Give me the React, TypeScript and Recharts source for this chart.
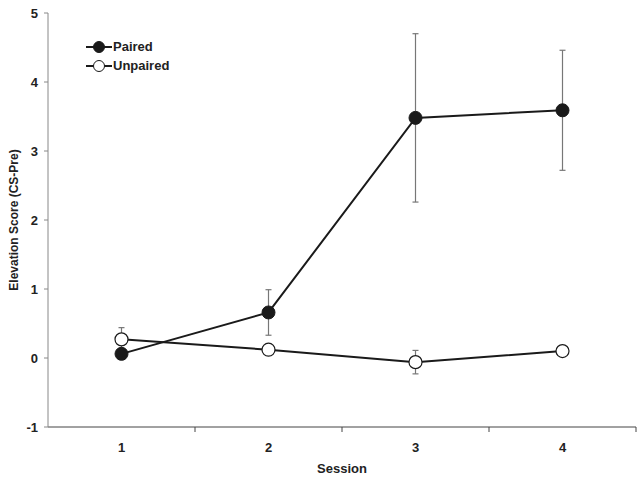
import React from 'react';
import { LineChart, Line, XAxis, YAxis, ErrorBar, Legend } from 'recharts';

const sessions = [1, 2, 3, 4];
const pairedMean = [0.06, 0.66, 3.48, 3.59];
const pairedErr = [0.08, 0.33, 1.22, 0.87];
const unpairedMean = [0.27, 0.12, -0.06, 0.1];
const unpairedErr = [0.17, 0.07, 0.17, 0.06];
const yTicks = [-1, 0, 1, 2, 3, 4, 5];
const boundaries = sessions.map((s) => s + 0.5);
const xTicks = [...sessions, ...boundaries].sort((a, b) => a - b);

const data = sessions.map((s, i) => ({
  session: s,
  paired: pairedMean[i],
  pairedErr: pairedErr[i],
  unpaired: unpairedMean[i],
  unpairedErr: unpairedErr[i],
}));

const FONT = '"Liberation Sans", Arial, sans-serif';
const TEXT = '#222';

const XTick = (props: any) => {
  const { x, y, payload } = props;
  const v = payload.value;
  if (Number.isInteger(v)) {
    return (
      <text x={x} y={y + 25} textAnchor="middle" fontFamily={FONT} fontWeight="bold" fontSize={13} fill={TEXT}>
        {v}
      </text>
    );
  }
  return <line x1={x} y1={y} x2={x} y2={y + 5} stroke="#444" strokeWidth={1} />;
};

const LegendContent = (props: any) => {
  const items = [
    { label: 'Paired', fill: '#1a1a1a' },
    { label: 'Unpaired', fill: '#ffffff' },
  ];
  return (
    <div style={{ fontFamily: FONT, fontWeight: 'bold', fontSize: 13, color: TEXT }}>
      {items.map((it) => (
        <div key={it.label} style={{ display: 'flex', alignItems: 'center', height: 19 }}>
          <svg width={30} height={14} style={{ display: 'block' }}>
            <line x1={2} y1={7} x2={28} y2={7} stroke="#1a1a1a" strokeWidth={2} />
            <circle cx={15} cy={7} r={5.5} fill={it.fill} stroke="#1a1a1a" strokeWidth={1} />
          </svg>
          <span style={{ marginLeft: -1 }}>{it.label}</span>
        </div>
      ))}
    </div>
  );
};

export default function App() {
  return (
    <div style={{ position: 'absolute', left: 0, top: 0, background: '#fff' }}>
      <LineChart width={642} height={478} data={data} margin={{ top: 13, right: 6, bottom: 6, left: 0 }}>
        <XAxis
          dataKey="session"
          type="number"
          domain={[0.5, 4.5]}
          ticks={xTicks}
          interval={0}
          tickLine={false}
          tickSize={0}
          tickMargin={0}
          tick={<XTick />}
          stroke="#444"
          height={45}
          label={{
            value: 'Session',
            position: 'insideBottom',
            offset: -1,
            style: { fontFamily: FONT, fontWeight: 'bold', fontSize: 13, fill: TEXT },
          }}
        />
        <YAxis
          type="number"
          domain={[-1, 5]}
          ticks={yTicks}
          interval={0}
          width={48}
          tickSize={4}
          tickMargin={6}
          stroke="#888"
          tick={{ fontFamily: FONT, fontWeight: 'bold', fontSize: 13, fill: TEXT }}
          label={{
            value: 'Elevation Score (CS-Pre)',
            angle: -90,
            position: 'insideLeft',
            offset: 14,
            style: { textAnchor: 'middle', fontFamily: FONT, fontWeight: 'bold', fontSize: 12, fill: TEXT },
          }}
        />
        <Legend
          layout="vertical"
          align="center"
          verticalAlign="middle"
          content={<LegendContent />}
          wrapperStyle={{ left: 84, top: 37, width: 'auto' }}
        />
        <Line
          dataKey="unpaired"
          stroke="#1a1a1a"
          strokeWidth={2}
          isAnimationActive={false}
          dot={{ r: 6.5, fill: '#ffffff', stroke: '#1a1a1a', strokeWidth: 1.2 }}
          activeDot={false}
        >
          <ErrorBar dataKey="unpairedErr" direction="y" width={3} stroke="#777" strokeWidth={1.2} />
        </Line>
        <Line
          dataKey="paired"
          stroke="#1a1a1a"
          strokeWidth={2}
          isAnimationActive={false}
          dot={{ r: 6.5, fill: '#1a1a1a', stroke: '#1a1a1a', strokeWidth: 1 }}
          activeDot={false}
        >
          <ErrorBar dataKey="pairedErr" direction="y" width={3} stroke="#777" strokeWidth={1.2} />
        </Line>
      </LineChart>
    </div>
  );
}
